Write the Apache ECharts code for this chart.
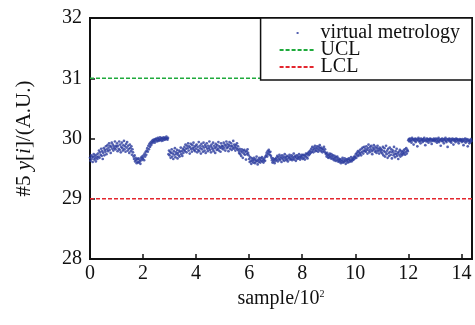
<!DOCTYPE html>
<html>
<head>
<meta charset="utf-8">
<script src="https://cdn.jsdelivr.net/npm/echarts@6/dist/echarts.min.js"></script>
<style>html,body{margin:0;padding:0;background:#fff}#c{width:475px;height:325px}</style>
</head>
<body>
<div id="c"></div>
<script>
// sample step (in units of 10^2 samples) between read values
var step = 0.02;
// y values, one array per 100 samples
var seg0 = [29.68,29.63,29.72,29.66,29.70,29.61,29.69,29.74,29.65,29.71,29.67,29.62,29.73,29.69,29.66,
  29.75,29.70,29.80,29.68,29.77,29.73,29.83,29.71,29.79,29.66,29.76,29.84,29.72,29.81,29.78,29.87,29.74,29.82,
  29.89,29.79,29.85,29.92,29.81,29.88,29.76,29.86,29.93,29.83,29.90,29.80,29.87,29.84,29.95,29.82,29.88];
var seg1 = [29.86,29.92,29.79,29.88,29.83,29.95,29.81,29.90,29.77,29.86,29.93,29.84,29.80,29.89,29.96,29.82,
  29.87,29.78,29.91,29.85,29.94,29.80,29.88,29.83,29.76,29.90,29.84,29.79,29.87,29.73,29.82,29.77,
  29.70,29.66,29.72,29.62,29.68,29.64,29.59,29.66,29.61,29.67,29.60,29.65,29.62,29.58,29.68,29.64,29.70,29.66];
var seg2 = [29.68,29.72,29.64,29.75,29.70,29.78,29.73,29.80,
  29.84,29.78,29.88,29.82,29.91,29.86,29.93,29.89,
  29.95,29.92,29.97,29.94,29.98,29.96,29.93,29.99,29.97,30.00,29.95,29.98,30.01,29.96,29.99,29.97,
  30.02,29.98,30.00,29.96,30.01,29.99,29.97,30.02,30.00,29.98,30.01,29.99,30.03,30.00,29.98,30.01,
  29.74,29.80];
var seg3 = [29.72,29.78,29.68,29.76,29.82,29.70,29.75,29.66,29.79,29.73,29.84,29.69,29.77,29.74,29.81,29.67,
  29.76,29.72,29.80,29.70,29.78,29.85,29.74,29.79,29.71,29.83,29.76,29.81,
  29.86,29.79,29.90,29.83,29.77,29.88,29.84,29.92,29.80,29.87,29.75,29.85,29.91,29.82,29.78,29.89,29.84,29.93,29.81,29.86,29.79,29.88];
var seg4 = [29.83,29.90,29.77,29.86,29.81,29.94,29.79,29.88,29.84,29.75,29.91,29.82,29.87,29.78,29.93,29.85,29.80,29.89,29.76,29.86,
  29.92,29.83,29.79,29.88,29.84,29.95,29.81,29.87,29.77,29.90,29.85,29.82,29.93,29.79,29.88,29.84,29.76,29.91,29.86,29.81,
  29.89,29.83,29.94,29.80,29.87,29.85,29.78,29.92,29.84,29.88];
var seg5 = [29.87,29.82,29.93,29.85,29.90,29.80,29.88,29.95,29.84,29.91,29.86,29.79,29.89,29.94,29.83,29.87,29.92,29.81,29.88,29.85,
  29.96,29.83,29.90,29.86,29.80,29.89,29.84,29.92,29.82,29.87,
  29.80,29.76,29.83,29.74,29.79,29.71,29.82,29.77,29.68,29.80,29.75,29.81,29.73,29.78,29.65,29.79,29.74,29.82,29.76,29.72];
var seg6 = [29.66,29.61,29.69,29.63,29.58,29.67,29.62,29.65,29.60,29.68,29.64,29.59,29.66,29.62,29.70,29.63,29.57,29.65,29.61,29.68,
  29.64,29.60,29.67,29.63,29.69,29.62,29.66,29.60,29.64,29.68,29.63,29.70,
  29.72,29.76,29.70,29.79,29.74,29.81,29.77,29.73,29.78,29.71,29.68,
  29.64,29.60,29.67,29.62,29.65,29.59,29.66];
var seg7 = [29.63,29.68,29.65,29.71,29.62,29.69,29.66,29.73,29.64,29.70,29.67,29.61,29.72,29.68,29.65,29.70,29.63,29.74,29.67,29.69,
  29.64,29.71,29.66,29.62,29.70,29.68,29.73,29.65,29.69,29.66,29.72,29.64,29.70,29.67,29.75,29.65,29.69,29.71,29.63,29.68,
  29.72,29.66,29.70,29.67,29.74,29.69,29.65,29.71,29.68,29.73];
var seg8 = [29.70,29.66,29.73,29.68,29.72,29.65,29.71,29.75,29.69,29.74,29.67,29.76,29.72,29.78,29.74,
  29.80,29.76,29.83,29.78,29.86,29.81,29.77,29.85,29.82,29.88,29.79,29.84,29.80,29.87,29.83,29.78,29.86,29.81,29.89,29.84,
  29.79,29.85,29.82,29.77,29.83,29.80,29.86,29.78,29.82,29.76,
  29.74,29.70,29.76,29.72,29.68];
var seg9 = [29.73,29.69,29.75,29.71,29.67,29.74,29.70,29.66,29.72,29.68,29.64,29.71,29.67,29.63,29.69,29.65,29.70,29.62,29.67,29.64,
  29.61,29.66,29.63,29.59,29.65,29.62,29.68,29.60,29.64,29.61,29.67,29.63,29.58,29.65,29.62,29.66,29.60,29.64,29.67,29.61,
  29.65,29.63,29.69,29.62,29.66,29.64,29.68,29.65,29.70,29.67];
var seg10 = [29.70,29.74,29.68,29.76,29.72,29.79,29.71,29.77,29.74,29.81,29.76,29.72,29.83,29.78,29.85,29.75,29.80,29.86,29.79,29.83,
  29.78,29.87,29.81,29.75,29.84,29.90,29.80,29.77,29.86,29.82,29.88,29.79,29.74,29.85,29.81,29.89,29.83,29.78,29.86,29.80,
  29.76,29.84,29.88,29.79,29.82,29.75,29.85,29.80,29.83,29.77];
var seg11 = [29.81,29.75,29.86,29.72,29.79,29.84,29.70,29.77,29.88,29.74,29.80,29.68,29.83,29.76,29.71,29.85,29.78,29.73,29.82,29.67,
  29.77,29.80,29.72,29.86,29.75,29.69,29.79,29.74,29.83,29.71,29.76,29.66,29.78,29.73,29.81,29.70,29.75,29.79,29.72,29.77,
  29.74,29.80,29.76,29.82,29.73,29.78,29.84,29.75,29.81,29.79];
var seg12 = [29.97,29.99,29.95,30.00,29.96,29.98,29.93,30.01,29.97,29.99,29.90,29.98,29.96,30.00,29.94,29.99,29.97,29.87,29.98,30.01,
  29.95,29.99,29.96,29.92,30.00,29.97,29.98,29.94,29.99,29.96,30.01,29.97,29.89,29.98,29.95,30.00,29.96,29.99,29.93,29.97,
  29.98,30.00,29.95,29.99,29.91,29.97,29.98,29.96,30.00,29.97];
var seg13 = [29.98,29.95,30.00,29.97,29.93,29.99,29.96,30.01,29.94,29.98,29.97,29.88,29.99,29.96,30.00,29.95,29.98,29.92,29.99,29.97,
  30.01,29.96,29.94,29.99,29.86,29.98,29.97,30.00,29.95,29.99,29.96,29.93,29.98,30.00,29.97,29.90,29.99,29.96,29.98,29.94,
  30.00,29.97,29.99,29.95,29.98,29.92,29.97,29.99,29.96,29.98];
var seg14 = [29.97,29.94,29.99,29.96,29.89,29.98,29.95,30.00,29.93,29.97,29.99,29.95,29.87,29.98,29.96,29.92,29.97,29.94,29.99,29.96];
var UCL = 31;
var LCL = 29;
var xMin = 0, xMax = 14.4;
var yMin = 28, yMax = 32;
var seriesNames = ['virtual metrology', 'UCL', 'LCL'];

var segs = [seg0,seg1,seg2,seg3,seg4,seg5,seg6,seg7,seg8,seg9,seg10,seg11,seg12,seg13,seg14];
var vm = [];
segs.forEach(function (s, k) {
  s.forEach(function (v, j) { vm.push([+(k + j * step).toFixed(2), v]); });
});

var serif = '"Liberation Serif","Times New Roman",serif';
var chart = echarts.init(document.getElementById('c'));
chart.setOption({
  animation: false,
  backgroundColor: '#fff',
  grid: { left: 90, right: 3, top: 18, bottom: 66, show: true, borderColor: '#111', borderWidth: 2, backgroundColor: 'transparent' },
  legend: {
    orient: 'vertical', right: 3, top: 18,
    padding: [5, 12, 3, 18], itemGap: -3, itemWidth: 36, itemHeight: 17,
    borderColor: '#111', borderWidth: 1.5, backgroundColor: '#fff',
    textStyle: { fontFamily: serif, fontSize: 20, color: '#111' },
    data: [
      { name: seriesNames[0], icon: 'path://M0,0 M36,17 M17,7.5 h2 v2 h-2 z' },
      { name: seriesNames[1], itemStyle: { color: 'rgba(0,0,0,0)', borderWidth: 0 } },
      { name: seriesNames[2], itemStyle: { color: 'rgba(0,0,0,0)', borderWidth: 0 } }
    ]
  },
  xAxis: {
    type: 'value', min: xMin, max: xMax, interval: 2,
    name: 'sample/10{sup|2}', nameLocation: 'middle', nameGap: 30,
    nameTextStyle: { fontFamily: serif, fontSize: 20, color: '#111',
      rich: { sup: { fontFamily: serif, fontSize: 10, color: '#111', verticalAlign: 'top', padding: [0, 0, 10, 0] } } },
    axisLine: { show: true, lineStyle: { color: '#111', width: 2 } },
    axisTick: { show: true, inside: true, length: 5, lineStyle: { color: '#111', width: 1.5 } },
    axisLabel: { fontFamily: serif, fontSize: 20, color: '#111', margin: 5 },
    splitLine: { show: false }
  },
  yAxis: {
    type: 'value', min: yMin, max: yMax, interval: 1,
    name: '#5 {it|y}[{it|i}]/(A.U.)', nameLocation: 'middle', nameGap: 55, nameRotate: 90,
    nameTextStyle: { fontFamily: serif, fontSize: 21, color: '#111',
      rich: { it: { fontFamily: serif, fontSize: 21, fontStyle: 'italic', color: '#111' } } },
    axisLine: { show: true, lineStyle: { color: '#111', width: 2 } },
    axisTick: { show: true, inside: true, length: 5, lineStyle: { color: '#111', width: 1.5 } },
    axisLabel: { fontFamily: serif, fontSize: 20, color: '#111', margin: 8 },
    splitLine: { show: false }
  },
  series: [
    { name: seriesNames[0], type: 'scatter', data: vm, symbol: 'circle', symbolSize: 2.7,
      itemStyle: { color: '#2b3b9e' }, z: 3 },
    { name: seriesNames[1], type: 'line', data: [[xMin, UCL], [xMax, UCL]], symbol: 'none',
      itemStyle: { color: '#1faa3c' }, lineStyle: { color: '#1faa3c', width: 1.5, type: [4, 2] }, z: 2 },
    { name: seriesNames[2], type: 'line', data: [[xMin, LCL], [xMax, LCL]], symbol: 'none',
      itemStyle: { color: '#e3262e' }, lineStyle: { color: '#e3262e', width: 1.5, type: [4, 2] }, z: 2 }
  ]
});
</script>
</body>
</html>
